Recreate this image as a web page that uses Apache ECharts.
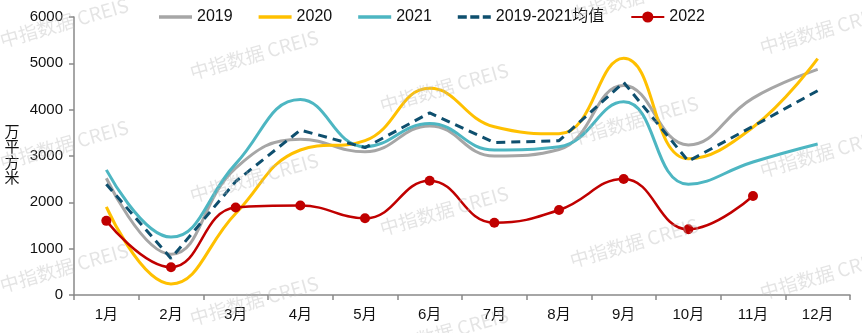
<!DOCTYPE html>
<html>
<head>
<meta charset="utf-8">
<script src="https://cdn.jsdelivr.net/npm/echarts@6/dist/echarts.min.js"></script>
<style>
  html, body { margin: 0; padding: 0; background: #fff; }
  #chart { width: 862px; height: 333px; }
</style>
</head>
<body>
<div id="chart"></div>
<script>
// Monthly volumes, 万平方米
const months = ['1月', '2月', '3月', '4月', '5月', '6月', '7月', '8月', '9月', '10月', '11月', '12月'];
const y2019 = [2520, 880, 2740, 3360, 3090, 3650, 3000, 3140, 4520, 3240, 4250, 4870];
const y2020 = [1900, 240, 1760, 3130, 3330, 4460, 3630, 3480, 5110, 2940, 3620, 5100];
const y2021 = [2700, 1250, 2830, 4220, 3200, 3700, 3130, 3200, 4170, 2390, 2870, 3260];
const avg1921 = [2390, 790, 2450, 3560, 3180, 3930, 3290, 3330, 4590, 2890, 3640, 4410];
const y2022 = [1600, 600, 1890, 1930, 1655, 2467, 1561, 1835, 2504, 1418, 2137];

const seriesNames = ['2019', '2020', '2021', '2019-2021均值', '2022'];
const yTicks = { min: 0, max: 6000, interval: 1000 };

const FONT = '"Liberation Sans", Arial, "Noto Sans CJK SC", sans-serif';

// legend glyphs: a plain bar for solid lines, three short bars for the dashed average
const solidIcon = 'path://M0,0 M0,14 M0,5.2h33v3.6h-33z';
const dashIcon = 'path://M0,0 M0,14 M0,5.2h9v3.6h-9z M12.5,5.2h9v3.6h-9z M25,5.2h8v3.6h-8z';

// light tiled watermark across the canvas
const wmText = '中指数据 CREIS';
const wmSpots = [
  [3, 50], [3, 172], [3, 295],
  [193, 82], [193, 205], [193, 328],
  [383, 115], [383, 238], [383, 360],
  [573, 25], [573, 148], [573, 270],
  [763, 57], [763, 180], [763, 302]
];
const watermarks = wmSpots.map(([x, y]) => ({
  type: 'text',
  x: x,
  y: y,
  rotation: 16 * Math.PI / 180,
  z: 100,
  silent: true,
  style: {
    text: wmText,
    fill: 'rgba(185,185,185,0.38)',
    font: '19px "Noto Sans CJK SC", sans-serif',
    textAlign: 'left',
    textVerticalAlign: 'bottom'
  }
}));

const chart = echarts.init(document.getElementById('chart'), null, { renderer: 'canvas' });

function lineSeries(name, data, color, extra) {
  return Object.assign({
    name: name,
    type: 'line',
    data: data,
    smooth: 0.45,
    symbol: 'none',
    lineStyle: { color: color, width: 3 },
    itemStyle: { color: color },
    emphasis: { disabled: true }
  }, extra || {});
}

chart.setOption({
  animation: false,
  textStyle: { fontFamily: FONT },
  grid: { left: 74, right: 12, top: 17, bottom: 38 },
  legend: {
    top: 4,
    left: 154,
    itemWidth: 33,
    itemHeight: 14,
    itemGap: 26,
    textStyle: { fontSize: 16, color: '#111', fontFamily: FONT },
    data: [
      { name: seriesNames[0], icon: solidIcon },
      { name: seriesNames[1], icon: solidIcon },
      { name: seriesNames[2], icon: solidIcon },
      { name: seriesNames[3], icon: dashIcon },
      { name: seriesNames[4] }
    ]
  },
  xAxis: {
    type: 'category',
    data: months,
    boundaryGap: true,
    axisLine: { lineStyle: { color: '#898989', width: 1.5 } },
    axisTick: { show: true, length: 5, lineStyle: { color: '#898989', width: 1.5 } },
    axisLabel: { fontSize: 15, color: '#111', margin: 12, fontFamily: FONT }
  },
  yAxis: {
    type: 'value',
    min: yTicks.min,
    max: yTicks.max,
    interval: yTicks.interval,
    name: '万\n平\n方\n米',
    nameLocation: 'middle',
    nameRotate: 0,
    nameGap: 62,
    nameTextStyle: { fontSize: 15, color: '#111', lineHeight: 15.5, align: 'center', verticalAlign: 'middle', fontFamily: FONT },
    axisLine: { show: true, lineStyle: { color: '#898989', width: 1.5 } },
    axisTick: { show: true, inside: false, length: 5, lineStyle: { color: '#898989', width: 1.5 } },
    splitLine: { show: false },
    axisLabel: { fontSize: 15, color: '#111', margin: 11, fontFamily: FONT, formatter: v => String(v) }
  },
  graphic: watermarks,
  series: [
    lineSeries(seriesNames[0], y2019, '#A6A6A6'),
    lineSeries(seriesNames[1], y2020, '#FFC000'),
    lineSeries(seriesNames[2], y2021, '#4DB6C2'),
    lineSeries(seriesNames[3], avg1921, '#0E4F6E', {
      smooth: false,
      lineStyle: { color: '#0E4F6E', width: 3, type: [9, 6] }
    }),
    lineSeries(seriesNames[4], y2022, '#C00000', {
      symbol: 'circle',
      symbolSize: 10,
      lineStyle: { color: '#C00000', width: 2.5 },
      z: 5
    })
  ]
});
</script>
</body>
</html>
